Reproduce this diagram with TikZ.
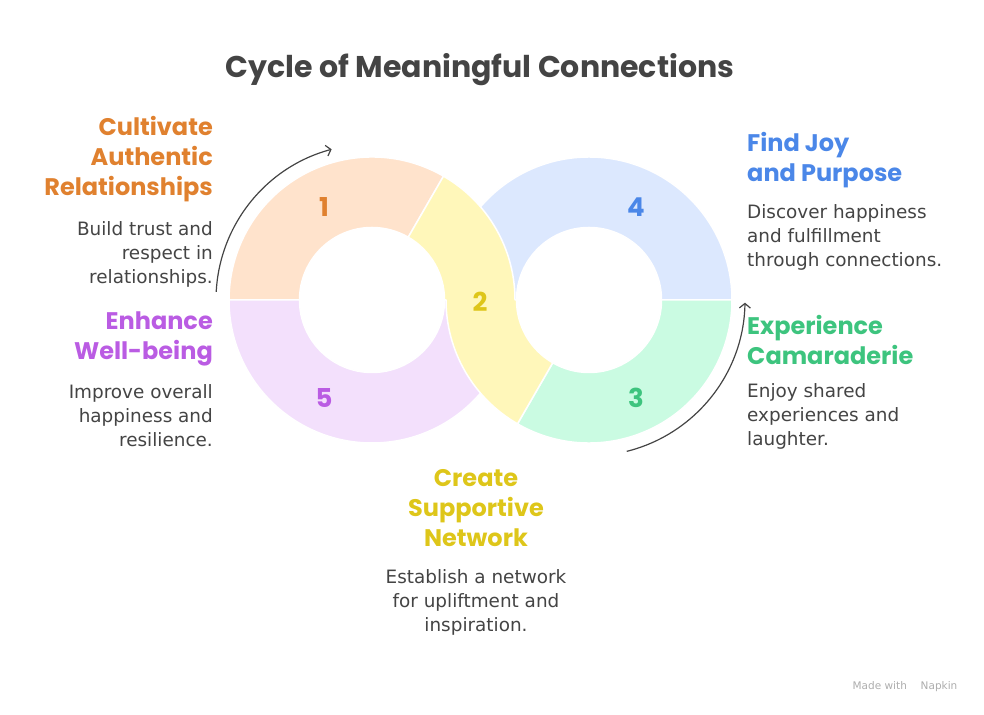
\documentclass[tikz,border=0pt]{standalone}
\usepackage{fontspec}
\setmainfont{DejaVu Sans}
\newfontfamily\headfont{Poppins}
\usetikzlibrary{calc,arrows.meta}

\definecolor{ink}{HTML}{444444}
\definecolor{orangebg}{HTML}{FFE3CC}
\definecolor{yellowbg}{HTML}{FFF7BA}
\definecolor{bluebg}{HTML}{DCE8FE}
\definecolor{greenbg}{HTML}{CAFBE2}
\definecolor{purplebg}{HTML}{F3E0FC}
\definecolor{orangetx}{HTML}{E0812F}
\definecolor{yellowtx}{HTML}{DEC61A}
\definecolor{bluetx}{HTML}{4B87E8}
\definecolor{greentx}{HTML}{3DC47E}
\definecolor{purpletx}{HTML}{BA5CE3}

\tikzset{
  seg/.style={draw=white, line width=1.5pt, line join=round},
  num/.style={font=\headfont\bfseries\fontsize{26}{26}\selectfont},
  head/.style={font=\headfont\bfseries\fontsize{24}{30}\selectfont, inner sep=0pt},
  desc/.style={font=\fontsize{18.4}{24}\selectfont, text=ink, inner sep=0pt},
  cyc/.style={draw=ink, line width=1.2pt, -{Straight Barb[length=4.5pt,width=11pt]}}
}

\begin{document}
\begin{tikzpicture}[x=1pt, y=1pt]
  \useasboundingbox (0,0) rectangle (984,714);
  % Centres
  \coordinate (L) at (372,414);
  \coordinate (R) at (589,414);

  % Ring segments
  \path[seg, fill=orangebg] ($(L)+(60:143pt)$) arc[start angle=60, end angle=180, radius=143pt]
    -- ($(L)+(180:72.5pt)$) arc[start angle=180, end angle=60, radius=72.5pt] -- cycle;
  \path[seg, fill=purplebg] ($(L)+(180:143pt)$) arc[start angle=180, end angle=360, radius=143pt]
    -- ($(L)+(0:72.5pt)$) arc[start angle=360, end angle=180, radius=72.5pt] -- cycle;
  \path[seg, fill=bluebg] ($(R)+(0:143pt)$) arc[start angle=0, end angle=180, radius=143pt]
    -- ($(R)+(180:72.5pt)$) arc[start angle=180, end angle=0, radius=72.5pt] -- cycle;
  \path[seg, fill=greenbg] ($(R)+(240:143pt)$) arc[start angle=240, end angle=360, radius=143pt]
    -- ($(R)+(0:72.5pt)$) arc[start angle=360, end angle=240, radius=72.5pt] -- cycle;
  \path[seg, fill=yellowbg] ($(L)+(60:143pt)$) arc[start angle=60, end angle=0, radius=143pt]
    -- ($(R)+(180:72.5pt)$) arc[start angle=180, end angle=240, radius=72.5pt]
    -- ($(R)+(240:143pt)$) arc[start angle=240, end angle=180, radius=143pt]
    -- ($(L)+(0:72.5pt)$) arc[start angle=0, end angle=60, radius=72.5pt] -- cycle;

  % Numbers
  \node[num, text=orangetx] (n1) at (324,507) {1};
  \node[num, text=yellowtx] (n2) at (480,412) {2};
  \node[num, text=greentx] (n3) at (636,316) {3};
  \node[num, text=bluetx] (n4) at (636,507) {4};
  \node[num, text=purpletx] (n5) at (324,316) {5};

  % Cycle arrows
  \coordinate (a1) at ($(L)+(177:156pt)$);
  \coordinate (a2) at ($(R)+(-76:156pt)$);
  \draw[cyc] (a1) arc[start angle=177, end angle=105, radius=156pt];
  \draw[cyc] (a2) arc[start angle=-76, end angle=-1, radius=156pt];

  % Title
  \node[font=\headfont\bfseries\fontsize{30}{30}\selectfont, text=ink] (title) at (480,644) {Cycle of Meaningful Connections};

  % Labels
  \node[head, text=orangetx, anchor=east, align=right] (h1) at (213,555) {Cultivate\\Authentic\\Relationships};
  \node[desc, anchor=east, align=right] (d1) at (213,460) {Build trust and\\respect in\\relationships.};
  \node[head, text=purpletx, anchor=east, align=right] (h5) at (213,375) {Enhance\\Well-being};
  \node[desc, anchor=east, align=right] (d5) at (213,298) {Improve overall\\happiness and\\resilience.};
  \node[head, text=bluetx, anchor=west, align=left] (h4) at (747,554) {Find Joy\\and Purpose};
  \node[desc, anchor=west, align=left] (d4) at (747,477) {Discover happiness\\and fulfillment\\through connections.};
  \node[head, text=greentx, anchor=west, align=left] (h3) at (747,374) {Experience\\Camaraderie};
  \node[desc, anchor=west, align=left] (d3) at (747,298) {Enjoy shared\\experiences and\\laughter.};
  \node[head, text=yellowtx, align=center] (h2) at (476,206) {Create\\Supportive\\Network};
  \node[desc, align=center] (d2) at (476,112) {Establish a network\\for upliftment and\\inspiration.};

  % Footer
  \node[font=\fontsize{10.5}{10.5}\selectfont, text=black!32] (mark) at (905,27) {Made with \quad Napkin};
\end{tikzpicture}
\end{document}
